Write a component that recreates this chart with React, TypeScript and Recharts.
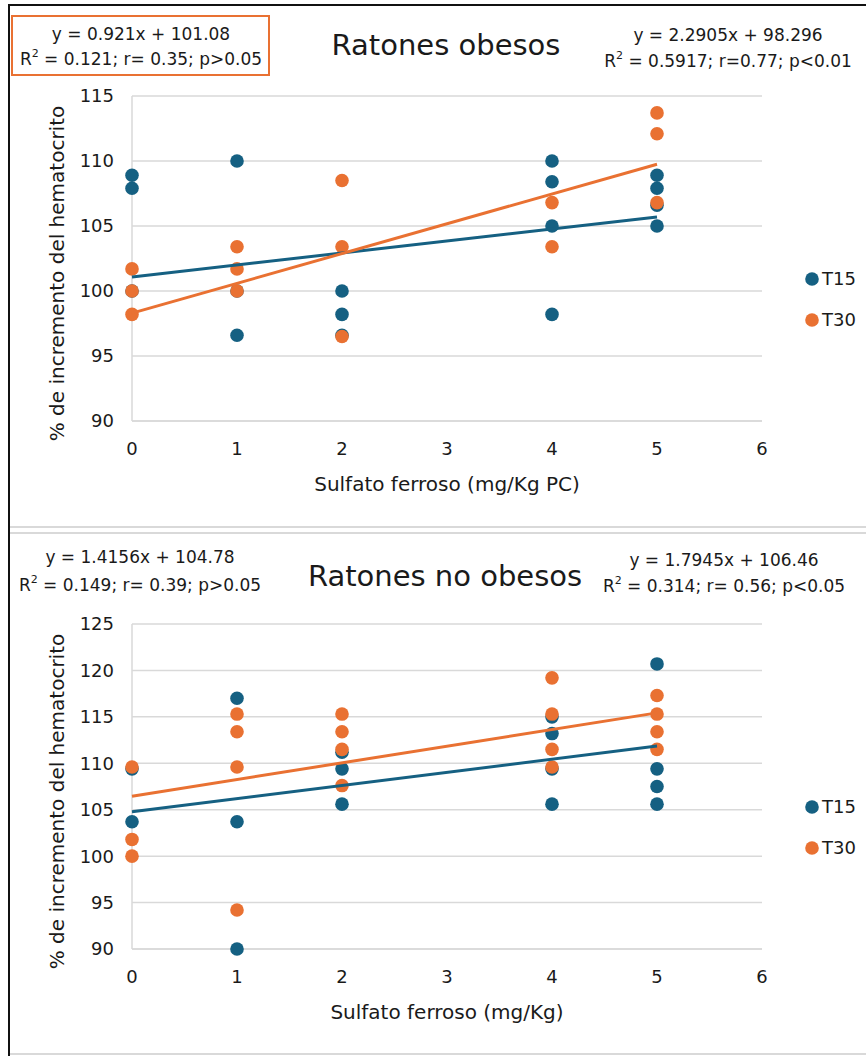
import React from 'react';
import { ScatterChart, Scatter, XAxis, YAxis, CartesianGrid, Legend, Label } from 'recharts';

const FONT = '"DejaVu Sans", "Liberation Sans", Arial, sans-serif';
const AZUL = '#156082';
const NARANJA = '#E97132';
const GRID = '#D9D9D9';

// dosis de sulfato ferroso (mg/Kg)
const dosis = [0, 1, 2, 4, 5];
const xTicks = [0, 1, 2, 3, 4, 5, 6];
const yTicksObesos = [90, 95, 100, 105, 110, 115];
const yTicksNoObesos = [90, 95, 100, 105, 110, 115, 120, 125];

// % de incremento del hematocrito, un grupo por dosis (mismo orden que dosis)
const obesosT15 = [
  [108.9, 107.9, 100],
  [110, 100, 96.6],
  [100, 98.2, 96.6],
  [110, 108.4, 105, 98.2],
  [108.9, 107.9, 106.6, 105],
];
const obesosT30 = [
  [101.7, 100, 98.2],
  [103.4, 101.7, 100],
  [108.5, 103.4, 96.5],
  [106.8, 103.4],
  [113.7, 112.1, 106.8],
];
const noObesosT15 = [
  [109.4, 103.7],
  [117, 103.7, 90],
  [111.2, 109.4, 105.6],
  [115, 113.2, 109.4, 105.6],
  [120.7, 109.4, 107.5, 105.6],
];
const noObesosT30 = [
  [109.6, 101.8, 100],
  [115.3, 113.4, 109.6, 94.2],
  [115.3, 113.4, 111.5, 107.6],
  [119.2, 115.3, 111.5, 109.6],
  [117.3, 115.3, 113.4, 111.5],
];

const trendX = [0, 5];
const obesosTrendT15 = [101.08, 105.69];
const obesosTrendT30 = [98.3, 109.75];
const noObesosTrendT15 = [104.78, 111.86];
const noObesosTrendT30 = [106.46, 115.43];

const toPoints = (groups: number[][]) =>
  groups.flatMap((vals, i) => vals.map((y) => ({ x: dosis[i], y })));
const toTrend = (ys: number[]) => ys.map((y, i) => ({ x: trendX[i], y }));

const Dot = (color: string) => (props: any) =>
  <circle cx={props.cx} cy={props.cy} r={6.8} fill={color} />;

const noShape = () => <g />;

const renderLegend = () => (
  <div style={{ fontFamily: FONT }}>
    {[{ name: 'T15', color: AZUL }, { name: 'T30', color: NARANJA }].map((it) => (
      <div key={it.name} style={{ display: 'flex', alignItems: 'center', height: 41 }}>
        <svg width={14} height={14}>
          <circle cx={7} cy={7} r={6.8} fill={it.color} />
        </svg>
        <span style={{ marginLeft: 3, fontSize: 18, color: '#1a1a1a' }}>{it.name}</span>
      </div>
    ))}
  </div>
);

type PanelProps = {
  top: number;
  height: number;
  plotTop: number;
  bottomMargin: number;
  yDomain: [number, number];
  yTicks: number[];
  t15: number[][];
  t30: number[][];
  trend15: number[];
  trend30: number[];
  xLabel: string;
  legendTop: number;
};

function Panel(p: PanelProps) {
  const plotBottom = p.height - p.bottomMargin - 60;
  const yMid = (p.plotTop + plotBottom) / 2 + 15;
  return (
    <div style={{ position: 'absolute', left: 0, top: p.top }}>
      <ScatterChart
        width={866}
        height={p.height}
        margin={{ top: p.plotTop, right: 104, bottom: p.bottomMargin, left: 22 }}
      >
        <CartesianGrid vertical={false} stroke={GRID} strokeWidth={1.5} />
        <XAxis
          type="number"
          dataKey="x"
          domain={[0, 6]}
          ticks={xTicks}
          height={60}
          tickLine={false}
          tickSize={0}
          tickMargin={21}
          axisLine={{ stroke: GRID, strokeWidth: 1.5 }}
          tick={{ fill: '#1a1a1a', fontSize: 18, fontFamily: FONT }}
        >
          <Label
            content={() => (
              <text
                x={447}
                y={plotBottom + 70}
                textAnchor="middle"
                fontSize={20}
                fontFamily={FONT}
                fill="#1a1a1a"
              >
                {p.xLabel}
              </text>
            )}
          />
        </XAxis>
        <YAxis
          type="number"
          dataKey="y"
          domain={p.yDomain}
          ticks={p.yTicks}
          width={110}
          tickLine={false}
          tickSize={0}
          tickMargin={18}
          axisLine={{ stroke: GRID, strokeWidth: 1.5 }}
          tick={{ fill: '#1a1a1a', fontSize: 18, fontFamily: FONT }}
        >
          <Label
            content={() => (
              <text
                x={64}
                y={yMid}
                transform={`rotate(-90 64 ${yMid})`}
                textAnchor="middle"
                fontSize={20}
                fontFamily={FONT}
                fill="#1a1a1a"
              >
                % de incremento del hematocrito
              </text>
            )}
          />
        </YAxis>
        <Legend
          layout="vertical"
          align="center"
          verticalAlign="middle"
          content={renderLegend}
          wrapperStyle={{ left: 805, top: p.legendTop, width: 60 }}
        />
        <Scatter name="T15" data={toPoints(p.t15)} fill={AZUL} shape={Dot(AZUL)} isAnimationActive={false} />
        <Scatter name="T30" data={toPoints(p.t30)} fill={NARANJA} shape={Dot(NARANJA)} isAnimationActive={false} />
        <Scatter
          name="Lineal (T15)"
          data={toTrend(p.trend15)}
          line={{ stroke: AZUL, strokeWidth: 3 }}
          shape={noShape}
          legendType="none"
          isAnimationActive={false}
        />
        <Scatter
          name="Lineal (T30)"
          data={toTrend(p.trend30)}
          line={{ stroke: NARANJA, strokeWidth: 3 }}
          shape={noShape}
          legendType="none"
          isAnimationActive={false}
        />
      </ScatterChart>
    </div>
  );
}

const Eq = ({ x, y, text }: { x: number; y: number; text: string }) => (
  <text x={x} y={y} textAnchor="middle" fontSize={17} fill="#1a1a1a">{text}</text>
);

const R2 = ({ x, y, text }: { x: number; y: number; text: string }) => (
  <text x={x} y={y} textAnchor="middle" fontSize={17} fill="#1a1a1a">
    <tspan>R</tspan>
    <tspan fontSize={11} dy={-8}>2</tspan>
    <tspan dy={8}>{text}</tspan>
  </text>
);

export default function App() {
  return (
    <div
      style={{
        position: 'absolute',
        left: 0,
        top: 0,
        width: 866,
        height: 1056,
        background: '#fff',
        overflow: 'hidden',
        fontFamily: FONT,
      }}
    >
      <Panel
        top={0}
        height={525}
        plotTop={96}
        bottomMargin={44}
        yDomain={[90, 115]}
        yTicks={yTicksObesos}
        t15={obesosT15}
        t30={obesosT30}
        trend15={obesosTrendT15}
        trend30={obesosTrendT30}
        xLabel="Sulfato ferroso (mg/Kg PC)"
        legendTop={258}
      />
      <Panel
        top={530}
        height={526}
        plotTop={94}
        bottomMargin={47}
        yDomain={[90, 125]}
        yTicks={yTicksNoObesos}
        t15={noObesosT15}
        t30={noObesosT30}
        trend15={noObesosTrendT15}
        trend30={noObesosTrendT30}
        xLabel="Sulfato ferroso (mg/Kg)"
        legendTop={256}
      />

      {/* marco y separadores */}
      <div style={{ position: 'absolute', left: 8, top: 4, width: 858, height: 2, background: '#111' }} />
      <div style={{ position: 'absolute', left: 8, top: 4, width: 2, height: 1052, background: '#111' }} />
      <div style={{ position: 'absolute', left: 10, top: 526, width: 856, height: 2, background: GRID }} />
      <div style={{ position: 'absolute', left: 10, top: 532, width: 856, height: 2, background: GRID }} />
      <div style={{ position: 'absolute', left: 10, top: 1053, width: 856, height: 2, background: GRID }} />
      <div
        style={{
          position: 'absolute',
          left: 11,
          top: 15,
          width: 259,
          height: 61,
          border: `2px solid ${NARANJA}`,
          boxSizing: 'border-box',
        }}
      />

      <svg
        width={866}
        height={1056}
        style={{ position: 'absolute', left: 0, top: 0, pointerEvents: 'none' }}
        fontFamily={FONT}
      >
        <Eq x={141} y={40} text="y = 0.921x + 101.08" />
        <R2 x={141} y={65} text=" = 0.121; r= 0.35; p>0.05" />
        <text x={446} y={55} textAnchor="middle" fontSize={29} fill="#1a1a1a">Ratones obesos</text>
        <Eq x={728} y={41} text="y = 2.2905x + 98.296" />
        <R2 x={728} y={67} text=" = 0.5917; r=0.77; p<0.01" />

        <Eq x={140} y={563} text="y = 1.4156x + 104.78" />
        <R2 x={140} y={591} text=" = 0.149; r= 0.39; p>0.05" />
        <text x={445} y={586} textAnchor="middle" fontSize={29} fill="#1a1a1a">Ratones no obesos</text>
        <Eq x={724} y={566} text="y = 1.7945x + 106.46" />
        <R2 x={724} y={592} text=" = 0.314; r= 0.56; p<0.05" />
      </svg>
    </div>
  );
}
